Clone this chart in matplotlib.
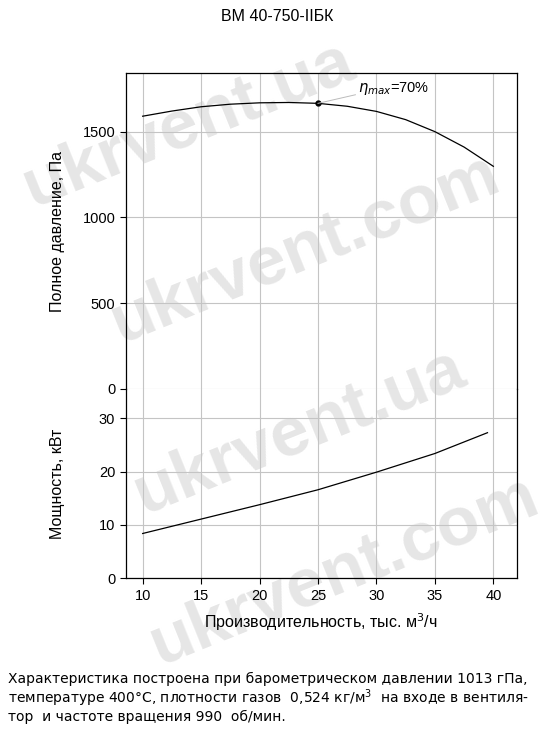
import numpy as np
import matplotlib.pyplot as plt

plt.rcParams['font.family'] = ['Liberation Sans', 'DejaVu Sans']

# ----------------------------------------------------------------------
# Data
# ----------------------------------------------------------------------
flow_p = [10, 12.5, 15, 17.5, 20, 22.5, 25, 27.5, 30, 32.5, 35, 37.5, 40]
pressure = [1590, 1620, 1645, 1660, 1668, 1670, 1665, 1648, 1618, 1570, 1500, 1410, 1298]

flow_n = [10, 15, 20, 25, 30, 35, 39.5]
power = [8.4, 11.1, 13.8, 16.6, 19.9, 23.4, 27.3]

eta_flow, eta_pressure = 25, 1665
eta_label = r"$\eta_{max}$=70%"

x_ticks = [10, 15, 20, 25, 30, 35, 40]
p_ticks = [0, 500, 1000, 1500]
n_ticks = [0, 10, 20, 30]

title = "ВМ 40-750-IIБК"
note = ("Характеристика построена при барометрическом давлении 1013 гПа,\n"
        "температуре 400°С, плотности газов  0,524 кг/м$^3$  на входе в вентиля-\n"
        "тор  и частоте вращения 990  об/мин.")

GRID = "#c4c4c4"

fig = plt.figure(figsize=(5.55, 7.31), dpi=100)

# watermarks
wm = dict(color="#e6e6e6", fontsize=50, fontweight="bold", rotation=22,
          ha="center", va="center", zorder=-5)
fig.text(0.34, 0.83, "ukrvent.ua", **wm)
fig.text(0.55, 0.66, "ukrvent.com", **wm)
fig.text(0.54, 0.41, "ukrvent.ua", **wm)
fig.text(0.62, 0.22, "ukrvent.com", **wm)

left, width = 0.2265, 0.7045
ax1 = fig.add_axes([left, 0.4679, width, 0.8997 - 0.4679])
ax2 = fig.add_axes([left, 0.2089, width, 0.4679 - 0.2089], sharex=ax1)

for ax in (ax1, ax2):
    ax.patch.set_alpha(0)
    ax.grid(True, color=GRID, linewidth=0.8)
    ax.set_axisbelow(True)
    ax.tick_params(labelsize=10.5, length=4, width=0.8, direction="out")
    for s in ax.spines.values():
        s.set_linewidth(0.9)

ax1.spines["bottom"].set_visible(False)
ax2.spines["top"].set_visible(False)
ax1.tick_params(axis="x", bottom=False, labelbottom=False)

ax1.plot(flow_p, pressure, color="black", linewidth=0.9)
ax1.plot([eta_flow], [eta_pressure], "o", color="black", markersize=3.5)
ax1.plot([eta_flow, 28.2], [eta_pressure, 1715], color="#bbbbbb", linewidth=0.7)
ax1.text(28.4, 1700, eta_label, fontsize=10.5, va="bottom", ha="left")

ax2.plot(flow_n, power, color="black", linewidth=0.9)

ax1.set_xlim(8.55, 42.0)
ax1.set_ylim(0, 1840)
ax2.set_ylim(0, 35.5)
ax1.set_xticks(x_ticks)
ax1.set_yticks(p_ticks)
ax2.set_yticks(n_ticks)

ax1.set_ylabel("Полное давление, Па", fontsize=11.5)
ax2.set_ylabel("Мощность, кВт", fontsize=11.5)
ax1.yaxis.set_label_coords(-0.155, 0.5)
ax2.yaxis.set_label_coords(-0.155, 0.5)
ax2.set_xlabel("Производительность, тыс. м$^3$/ч", fontsize=11.5, labelpad=6)

fig.text(0.5, 0.978, title, fontsize=11.5, ha="center", va="center")
fig.text(0.014, 0.045, note, fontsize=10, ha="left", va="center",
         linespacing=1.1, family=["DejaVu Sans"])

fig.savefig("out.png", dpi=100)
